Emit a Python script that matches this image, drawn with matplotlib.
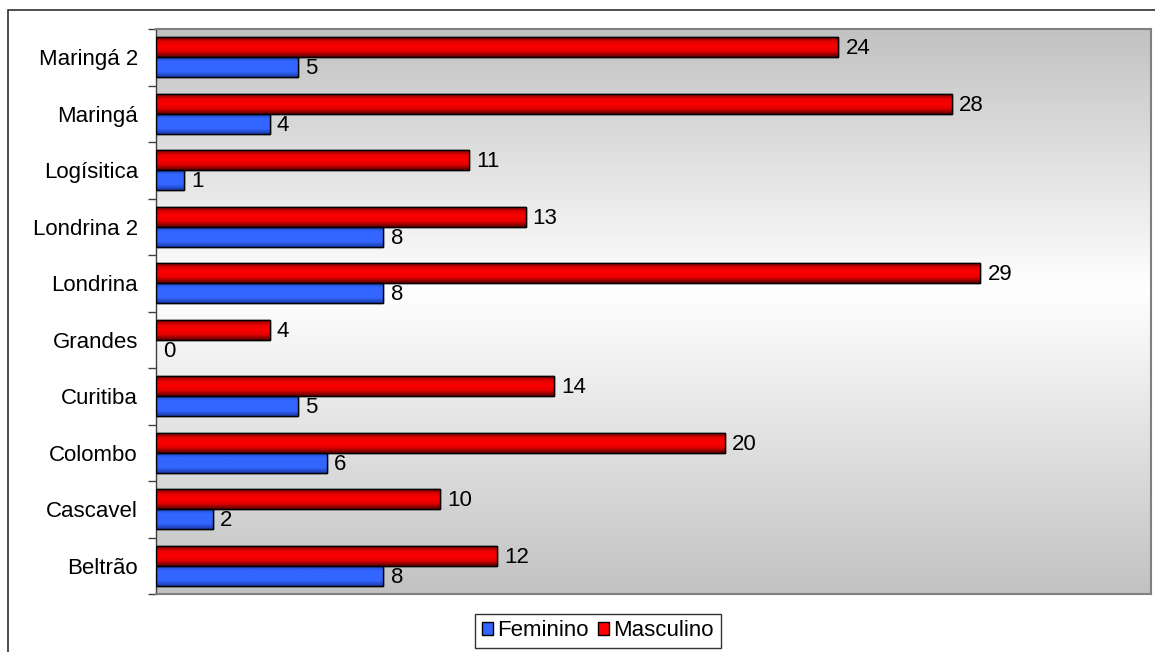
import numpy as np
import matplotlib.pyplot as plt
from matplotlib.colors import LinearSegmentedColormap
from matplotlib.patches import Patch, Rectangle

plt.rcParams["font.family"] = ["Liberation Sans", "DejaVu Sans"]

categories = ["Beltrão", "Cascavel", "Colombo", "Curitiba", "Grandes",
              "Londrina", "Londrina 2", "Logísitica", "Maringá", "Maringá 2"]
feminino = [8, 2, 6, 5, 0, 8, 8, 1, 4, 5]
masculino = [12, 10, 20, 14, 4, 29, 13, 11, 28, 24]

W, H = 1155, 652
fig = plt.figure(figsize=(W / 100, H / 100), dpi=100)
ax = fig.add_axes([156 / W, 1 - 594 / H, (1151 - 156) / W, (594 - 29) / H])

# background gradient: gray top, white in the middle, gray bottom
bg_cmap = LinearSegmentedColormap.from_list(
    "bg", [(0.0, "#c2c2c2"), (0.54, "#ffffff"), (1.0, "#c2c2c2")])
grad = np.linspace(0, 1, 256).reshape(-1, 1)
ax.imshow(grad, cmap=bg_cmap, aspect="auto", extent=(0, 1, 0, 1),
          transform=ax.transAxes, origin="lower", zorder=0)

y = np.arange(len(categories))
h = 0.355
bars_m = ax.barh(y + h / 2, masculino, height=h, color="#ff0000",
                 edgecolor="black", linewidth=1, zorder=2)
bars_f = ax.barh(y - h / 2, feminino, height=h, color="#3366ff",
                 edgecolor="black", linewidth=1, zorder=2)

red_cmap = LinearSegmentedColormap.from_list(
    "r", ["#5a0000", "#e00000", "#ff0000", "#e00000", "#5a0000"])
blue_cmap = LinearSegmentedColormap.from_list(
    "b", ["#1a3aa8", "#3366ff", "#3366ff", "#3366ff", "#1a3aa8"])
shade = np.linspace(0, 1, 64).reshape(-1, 1)
for bars, cmap in ((bars_m, red_cmap), (bars_f, blue_cmap)):
    for p in bars:
        if p.get_width() <= 0:
            p.set_visible(False)
            continue
        x0, y0 = p.get_x(), p.get_y()
        im = ax.imshow(shade, cmap=cmap, aspect="auto", origin="lower",
                       extent=(x0, x0 + p.get_width(), y0, y0 + p.get_height()),
                       zorder=2.5)
        im.set_clip_path(p)
        ax.add_patch(Rectangle((x0, y0), p.get_width(), p.get_height(),
                               fill=False, edgecolor="black", linewidth=1, zorder=3))

for vals, offs in ((masculino, h / 2), (feminino, -h / 2)):
    for yi, v in zip(y, vals):
        ax.text(v + 0.25, yi + offs - 0.03, str(v), va="center", ha="left",
                fontsize=16, color="black", zorder=4)

ax.set_xlim(0, 35)
ax.set_ylim(-0.5, len(categories) - 0.5)
ax.set_xticks([])
ax.set_yticks(y)
ax.set_yticklabels(categories, fontsize=16)
ax.tick_params(axis="y", which="major", length=0, pad=13)
ax.set_yticks(np.arange(-0.5, len(categories), 1), minor=True)
ax.tick_params(axis="y", which="minor", length=6, width=1, color="#404040")

for side in ("top", "right", "bottom"):
    ax.spines[side].set_color("#808080")
    ax.spines[side].set_linewidth(1.5)
ax.spines["left"].set_color("#404040")
ax.spines["left"].set_linewidth(1)

# outer chart frame
fig.patches.append(Rectangle((8 / W, -0.5), 2, 1.5 - 10 / H, transform=fig.transFigure,
                             fill=False, edgecolor="#303030", linewidth=1.2))

handles = [Patch(facecolor="#3366ff", edgecolor="black", label="Feminino"),
           Patch(facecolor="#ff0000", edgecolor="black", label="Masculino")]
leg = fig.legend(handles=handles, loc="center", bbox_to_anchor=(598 / W, 1 - 631 / H),
                 ncol=2, fontsize=16, frameon=True, fancybox=False,
                 handlelength=0.5, handleheight=0.5, handletextpad=0.2,
                 columnspacing=0.4, borderpad=0.3, borderaxespad=0)
leg.get_frame().set_edgecolor("black")
leg.get_frame().set_linewidth(1)

fig.savefig("out.png", dpi=100)
